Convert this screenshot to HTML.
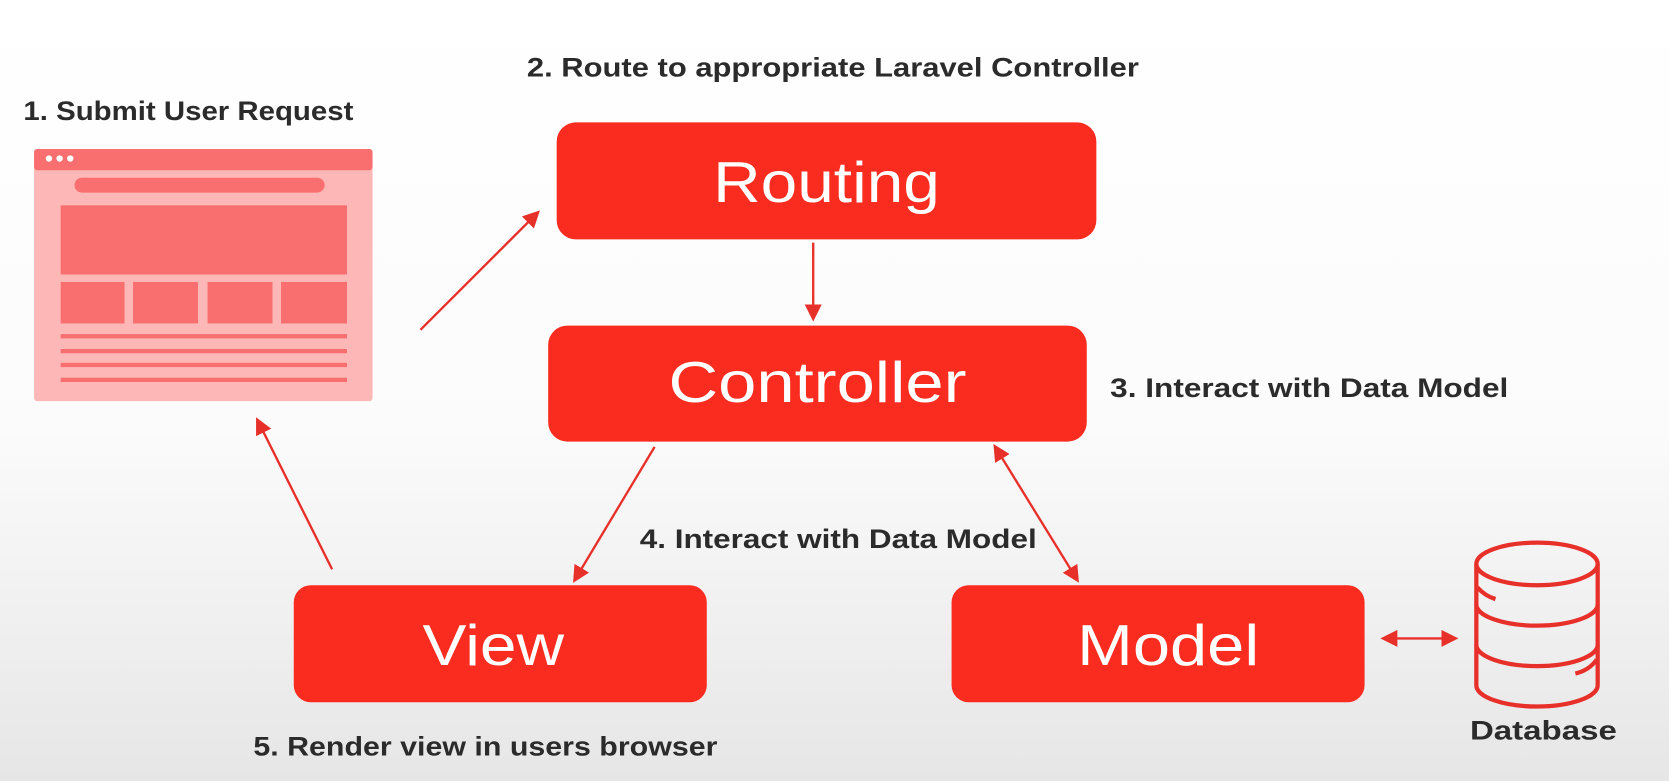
<!DOCTYPE html>
<html><head><meta charset="utf-8"><style>
html,body{margin:0;padding:0;width:1669px;height:781px;overflow:hidden;background:#fff}
svg{display:block}
text{font-family:"Liberation Sans",sans-serif}
</style></head><body>
<svg width="1669" height="781" viewBox="0 0 1568 734" preserveAspectRatio="none" xmlns="http://www.w3.org/2000/svg">
<defs>
<linearGradient id="bg" x1="0" y1="0" x2="0" y2="1">
<stop offset="0" stop-color="#ffffff"/><stop offset="0.55" stop-color="#fbfbfb"/><stop offset="1" stop-color="#e6e6e6"/>
</linearGradient>
<marker id="ahb" viewBox="0 0 10 10" refX="8" refY="5" markerWidth="16" markerHeight="16" markerUnits="userSpaceOnUse" orient="auto-start-reverse">
<path d="M0,0 L10,5 L0,10 z" fill="#e8302a"/></marker>
</defs>
<rect width="1568" height="734" fill="url(#bg)"/>
<rect x="32" y="140" width="318" height="237" rx="3" fill="#fdb7b7"/>
<rect x="32" y="140" width="318" height="20" rx="3" fill="#f96f6f"/>
<circle cx="46" cy="149" r="3" fill="#fff"/><circle cx="56" cy="149" r="3" fill="#fff"/><circle cx="66" cy="149" r="3" fill="#fff"/>
<rect x="70" y="167" width="235" height="14" rx="7" fill="#f96f6f"/>
<rect x="57" y="193" width="269" height="65" fill="#f96f6f"/>
<rect x="57" y="265" width="60" height="39" fill="#f96f6f"/>
<rect x="125" y="265" width="61" height="39" fill="#f96f6f"/>
<rect x="195" y="265" width="61" height="39" fill="#f96f6f"/>
<rect x="264" y="265" width="62" height="39" fill="#f96f6f"/>
<rect x="57" y="314" width="269" height="4" fill="#f96f6f"/>
<rect x="57" y="328" width="269" height="4" fill="#f96f6f"/>
<rect x="57" y="341" width="269" height="4" fill="#f96f6f"/>
<rect x="57" y="355" width="269" height="4" fill="#f96f6f"/>
<rect x="523" y="115" width="507" height="110" rx="18" fill="#fa2b1f"/>
<rect x="515" y="306" width="506" height="109" rx="18" fill="#fa2b1f"/>
<rect x="276" y="550" width="388" height="110" rx="16" fill="#fa2b1f"/>
<rect x="894" y="550" width="388" height="110" rx="16" fill="#fa2b1f"/>
<g fill="#fff" font-size="54" lengthAdjust="spacingAndGlyphs">
<text x="670" y="190" textLength="213" lengthAdjust="spacingAndGlyphs">Routing</text>
<text x="628" y="378" textLength="280" lengthAdjust="spacingAndGlyphs">Controller</text>
<text x="397" y="625" textLength="133" lengthAdjust="spacingAndGlyphs">View</text>
<text x="1012" y="625" textLength="171" lengthAdjust="spacingAndGlyphs">Model</text>
</g>
<g fill="#2b2b2b" font-size="25" font-weight="bold">
<text x="22" y="113" textLength="310" lengthAdjust="spacingAndGlyphs">1. Submit User Request</text>
<text x="495" y="72" textLength="575" lengthAdjust="spacingAndGlyphs">2. Route to appropriate Laravel Controller</text>
<text x="1043" y="373" textLength="374" lengthAdjust="spacingAndGlyphs">3. Interact with Data Model</text>
<text x="601" y="515" textLength="373" lengthAdjust="spacingAndGlyphs">4. Interact with Data Model</text>
<text x="238" y="710" textLength="436" lengthAdjust="spacingAndGlyphs">5. Render view in users browser</text>
<text x="1381" y="695" textLength="138" lengthAdjust="spacingAndGlyphs">Database</text>
</g>
<g stroke="#e8302a" stroke-width="2.2" fill="none">
<line x1="395" y1="310" x2="505" y2="200" marker-end="url(#ahb)"/>
<line x1="764" y1="228" x2="764" y2="299" marker-end="url(#ahb)"/>
<line x1="615" y1="420" x2="540" y2="545" marker-end="url(#ahb)"/>
<line x1="935" y1="420" x2="1012" y2="545" marker-start="url(#ahb)" marker-end="url(#ahb)"/>
<line x1="312" y1="535" x2="242" y2="395" marker-end="url(#ahb)"/>
<line x1="1300" y1="600" x2="1367" y2="600" marker-start="url(#ahb)" marker-end="url(#ahb)"/>
</g>
<g stroke="#e8302a" stroke-width="4" fill="none">
<ellipse cx="1444" cy="530" rx="57" ry="20"/>
<path d="M1387,530 V644 A57,20 0 0 0 1501,644 V530"/>
<path d="M1387,568 A57,20 0 0 0 1501,568"/>
<path d="M1387,606 A57,20 0 0 0 1501,606"/>
<path d="M1388,552 Q1395,560 1405,563"/>
<path d="M1500,620 Q1493,630 1480,633"/>
</g>
</svg>
</body></html>
